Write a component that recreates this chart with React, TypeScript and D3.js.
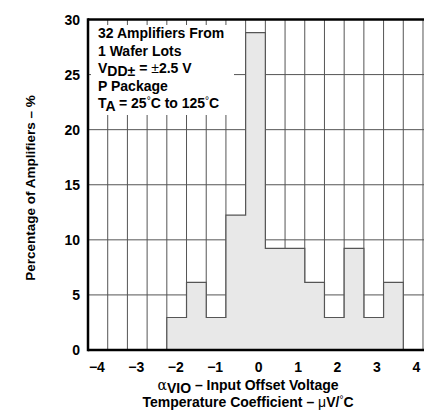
import React from "react";
import * as d3 from "d3";

// Histogram bins: lower edge of each bin (µV/°C) and share of amplifiers (%)
const binStarts = [-4.33, -3.83, -3.33, -2.83, -2.33, -1.83, -1.33, -0.83, -0.33, 0.17, 0.67, 1.17, 1.67, 2.17, 2.67, 3.17, 3.67];
const binWidth = 0.5;
const percentages = [0, 0, 0, 0, 2.95, 6.13, 2.95, 12.25, 28.8, 9.23, 9.23, 6.13, 2.95, 9.23, 2.95, 6.13, 0];

const xTicks = [-4, -3, -2, -1, 0, 1, 2, 3, 4];
const yTicks = [0, 5, 10, 15, 20, 25, 30];

const W = 424;
const H = 412;
const left = 88;
const top = 19.5;
const bottom = 350;

const FONT = "'Liberation Sans', Arial, Helvetica, sans-serif";

export default function App() {
  const x = d3.scaleLinear().domain([-4.33, 4.2]).range([left, left + 8.53 * 39.41]);
  const y = d3.scaleLinear().domain([0, 30]).range([bottom, top]);

  const pts: [number, number][] = binStarts.map((s, i) => [s, percentages[i]]);
  pts.push([binStarts[binStarts.length - 1] + binWidth, percentages[percentages.length - 1]]);

  const area = d3
    .area<[number, number]>()
    .curve(d3.curveStepAfter)
    .x((d) => x(d[0]))
    .y0(y(0))
    .y1((d) => y(d[1]));

  const line = d3
    .line<[number, number]>()
    .curve(d3.curveStepAfter)
    .x((d) => x(d[0]))
    .y((d) => y(d[1]));

  const edges = [...binStarts.slice(1), binStarts[binStarts.length - 1] + binWidth];

  const right = W + 2;
  const boxLines = [38, 55.5, 73, 90.5, 108];

  return (
    <svg
      width={W}
      height={H}
      style={{ position: "absolute", left: 0, top: 0, background: "#fff" }}
      fontFamily={FONT}
      fontWeight="bold"
    >
      {/* grid */}
      {yTicks.slice(1, -1).map((t) => (
        <line key={"h" + t} x1={left} x2={right} y1={y(t)} y2={y(t)} stroke="#555" strokeWidth={1} />
      ))}
      {edges.map((e, i) => (
        <line key={"v" + i} x1={x(e)} x2={x(e)} y1={top} y2={bottom} stroke="#555" strokeWidth={1} />
      ))}

      {/* histogram */}
      <path d={area(pts) ?? ""} fill="#e8e8e8" stroke="none" />
      <path d={line(pts) ?? ""} fill="none" stroke="#555" strokeWidth={1.2} />

      {/* annotation box */}
      <rect x={91} y={25} width={143} height={90} fill="#fff" />
      <g fontSize={14} fill="#000">
        <text x={98} y={boxLines[0]}>32 Amplifiers From</text>
        <text x={98} y={boxLines[1]}>1 Wafer Lots</text>
        <text x={98} y={boxLines[2]}>
          V<tspan dy={3}>DD±</tspan>
          <tspan dy={-3}> = </tspan>
          <tspan fontWeight="normal">±</tspan>2.5 V
        </text>
        <text x={98} y={boxLines[3]}>P Package</text>
        <text x={98} y={boxLines[4]}>
          T<tspan dy={3}>A</tspan>
          <tspan dy={-3}> = 25</tspan>
          <tspan fontWeight="normal" fontSize={10} dy={-4}>°</tspan>
          <tspan dy={4}>C to 125</tspan>
          <tspan fontWeight="normal" fontSize={10} dy={-4}>°</tspan>
          <tspan dy={4}>C</tspan>
        </text>
      </g>

      {/* frame */}
      <line x1={left} x2={right} y1={top} y2={top} stroke="#000" strokeWidth={2.5} />
      <line x1={left} x2={left} y1={top - 1.25} y2={bottom + 1.25} stroke="#000" strokeWidth={2.5} />
      <line x1={left} x2={right} y1={bottom} y2={bottom} stroke="#000" strokeWidth={2.5} />

      {/* y tick labels */}
      <g fontSize={14} fill="#000" textAnchor="end">
        {yTicks.map((t) => (
          <text key={"yl" + t} x={80} y={y(t) + 5}>
            {t}
          </text>
        ))}
      </g>

      {/* x tick labels */}
      <g fontSize={14} fill="#000" textAnchor="end">
        {xTicks.map((t) => (
          <text key={"xl" + t} x={x(t) + 3.9} y={372}>
            {t < 0 ? "\u2212" + Math.abs(t) : String(t)}
          </text>
        ))}
      </g>

      {/* axis titles */}
      <text
        transform={`translate(35, 188) rotate(-90)`}
        textAnchor="middle"
        fontSize={13.5}
        fill="#000"
      >
        Percentage of Amplifiers – %
      </text>
      <text x={248} y={390} textAnchor="middle" fontSize={14} fill="#000">
        <tspan fontWeight="normal" fontFamily="'DejaVu Serif', serif" fontSize={14}>α</tspan>
        <tspan dy={2.5} fontSize={14}>VIO</tspan>
        <tspan dy={-2.5}> – Input Offset Voltage</tspan>
      </text>
      <text x={248} y={407} textAnchor="middle" fontSize={14} fill="#000">
        Temperature Coefficient – <tspan fontWeight="normal">μ</tspan>V/
        <tspan fontWeight="normal" fontSize={10} dy={-4}>°</tspan>
        <tspan dy={4}>C</tspan>
      </text>
    </svg>
  );
}
